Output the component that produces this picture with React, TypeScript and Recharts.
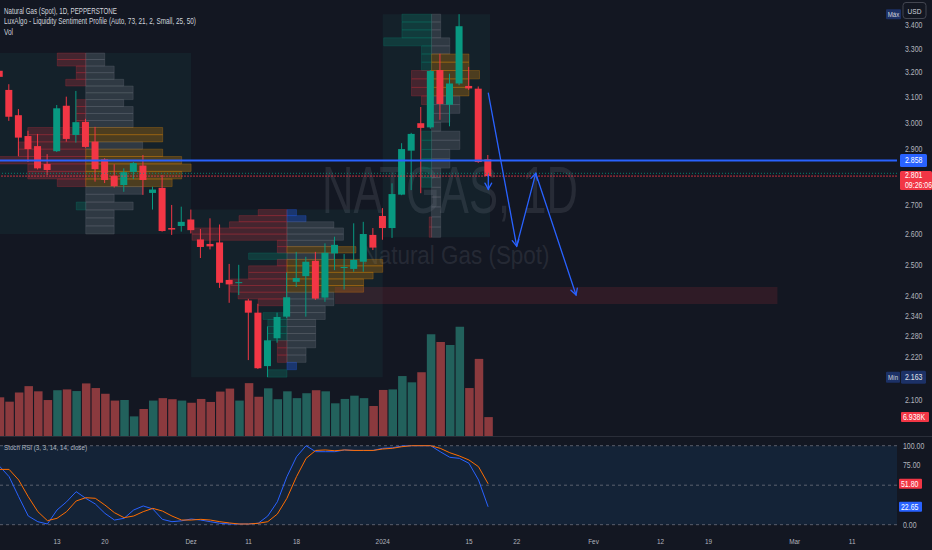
import React from 'react';
import { ComposedChart, Bar, Line, XAxis, YAxis, ReferenceArea, ReferenceLine, Cell } from 'recharts';

// daily candles, index -1 .. 50 (6 Nov 2023 = 0)
const firstIndex = -1;
const opens = [3.207, 3.129, 3.029, 2.949, 2.911, 2.845, 2.892, 3.066, 2.953, 3.003, 2.928, 2.862, 2.802, 2.769, 2.816, 2.839, 2.741, 2.759, 2.620, 2.627, 2.649, 2.582, 2.567, 2.572, 2.451, 2.442, 2.387, 2.350, 2.194, 2.274, 2.338, 2.445, 2.463, 2.512, 2.396, 2.536, 2.490, 2.486, 2.509, 2.597, 2.661, 2.620, 2.735, 2.894, 2.998, 2.982, 3.210, 3.070, 3.155, 3.145, 3.134, 2.862];
const highs = [3.215, 3.152, 3.053, 2.969, 2.957, 2.881, 3.069, 3.102, 3.125, 3.015, 2.984, 2.866, 2.844, 2.829, 2.852, 2.878, 2.763, 2.805, 2.699, 2.693, 2.683, 2.617, 2.653, 2.632, 2.502, 2.499, 2.392, 2.377, 2.309, 2.350, 2.475, 2.541, 2.525, 2.541, 2.569, 2.591, 2.534, 2.636, 2.641, 2.620, 2.688, 2.775, 2.922, 2.961, 3.061, 3.210, 3.278, 3.195, 3.449, 3.223, 3.143, 2.878];
const lows = [3.175, 3.007, 2.874, 2.852, 2.825, 2.805, 2.889, 2.928, 2.924, 2.905, 2.781, 2.776, 2.760, 2.745, 2.790, 2.734, 2.683, 2.608, 2.597, 2.608, 2.602, 2.521, 2.549, 2.426, 2.380, 2.404, 2.211, 2.186, 2.163, 2.261, 2.334, 2.429, 2.338, 2.389, 2.383, 2.482, 2.421, 2.477, 2.477, 2.547, 2.581, 2.587, 2.733, 2.751, 2.740, 2.977, 3.011, 2.986, 3.148, 3.129, 2.849, 2.801];
const closes = [3.182, 3.023, 2.943, 2.900, 2.829, 2.823, 3.056, 2.938, 3.002, 2.908, 2.826, 2.787, 2.765, 2.815, 2.848, 2.787, 2.753, 2.610, 2.615, 2.641, 2.613, 2.557, 2.559, 2.442, 2.437, 2.444, 2.350, 2.188, 2.268, 2.337, 2.397, 2.457, 2.509, 2.393, 2.538, 2.564, 2.492, 2.515, 2.600, 2.555, 2.620, 2.737, 2.900, 2.957, 2.980, 3.206, 3.073, 3.155, 3.396, 3.135, 2.852, 2.801];
const volumes = [14.2, 12.6, 16.0, 18.3, 16.4, 13.2, 16.8, 17.1, 16.5, 19.3, 17.6, 15.5, 13.0, 13.2, 7.2, 9.9, 13.0, 13.9, 13.5, 13.0, 12.2, 13.6, 12.5, 16.3, 17.4, 13.0, 19.4, 14.4, 17.5, 13.5, 16.4, 13.9, 15.7, 16.8, 16.4, 12.0, 13.6, 14.8, 13.9, 11.0, 16.9, 17.1, 22.0, 19.7, 23.4, 37.3, 34.5, 33.4, 40.1, 17.6, 28.3, 6.938];
const stochK = [74, 60.8, 35.4, 11, 3.8, 0.9, 18.6, 29, 41.8, 33.4, 26.2, 14.4, 5.9, 8.1, 18.6, 23.7, 19.9, 6.8, 3.8, 4.9, 7.2, 5.9, 3.8, 1.8, 0.9, 0.9, 0.9, 1.8, 11, 29, 60.8, 86, 100, 92.4, 92.4, 92.4, 94.6, 94, 94, 94, 96.7, 97.3, 99.6, 100, 100, 100, 92.4, 85.3, 84, 77.7, 56.6, 22.65];
const stochD = [70, 70, 56.6, 35.4, 16.5, 5.1, 8.1, 16.5, 30, 34.2, 33.4, 24.9, 15.2, 8.9, 11, 16.5, 20.7, 17.3, 11, 5.9, 5.9, 6.8, 5.9, 3.8, 2.2, 0.9, 0.9, 1.8, 3.8, 13.5, 33.4, 60.8, 84, 94, 94.6, 93.6, 94.6, 94, 94, 94, 95.8, 96.7, 98.7, 100, 100, 100, 96.7, 91.1, 87, 81.9, 73.4, 51.8];

const dateTickIndex = [5, 10, 19, 25, 30, 39, 48, 53, 61, 68, 73, 82, 88];
const dateTickLabels = ['13', '20', 'Dez', '11', '18', '2024', '15', '22', 'Fev', '12', '19', 'Mar', '11'];
const priceTicks = [3.4, 3.3, 3.2, 3.1, 3.0, 2.9, 2.7, 2.6, 2.5, 2.4, 2.34, 2.28, 2.22, 2.1];
const stochTicks = [100, 75, 0];
const stochLevels = [100, 50, 0];

const levelLine = 2.858;
const bidLine = 2.811;
const countdown = '09:26:06';

// red target zone and drawn arrows [index, price]
const zoneFrom = 34;
const zoneTo = 80.2;
const zoneHigh = 2.429;
const zoneLow = 2.376;
const arrowPath = [[50.02, 3.116], [52.98, 2.56], [54.97, 2.811], [59.18, 2.404]];
const smallArrow = [[50.02, 2.805], [50.02, 2.754]];

// liquidity sentiment profiles
const profileFrom = [-3, 19, 39];
const profileTo = [19, 39, 50.2];
const profileMid = [8, 29, 44.1];
const profileHalf = [11, 10, 5];
const profileHigh = [3.281, 2.683, 3.449];
const profileLow = [2.6, 2.163, 2.589];
// rows top -> bottom: [sentiment colour, size, liquidity colour, size]
// r bear, g bull, a average, h high, l low, n none
const profile1Rows = [
  ['r', 27, 'a', 18], ['r', 27, 'a', 18], ['r', 9, 'a', 27], ['r', 9, 'a', 27], ['r', 19, 'a', 36],
  ['n', 0, 'a', 45], ['n', 0, 'a', 45], ['r', 9, 'a', 36], ['r', 9, 'a', 45], ['r', 9, 'a', 45],
  ['r', 9, 'a', 45], ['r', 55, 'h', 73], ['r', 55, 'h', 73], ['r', 64, 'a', 54], ['r', 64, 'h', 73],
  ['r', 90, 'h', 91], ['r', 55, 'h', 100], ['r', 55, 'h', 91], ['r', 27, 'h', 82], ['n', 0, 'a', 54],
  ['n', 0, 'a', 27], ['g', 9, 'a', 45], ['n', 0, 'a', 27], ['n', 0, 'a', 27], ['n', 0, 'a', 27],
];
const profile2Rows = [
  ['r', 30, 'l', 10], ['r', 50, 'l', 20], ['r', 60, 'a', 49], ['r', 99, 'a', 59], ['r', 99, 'a', 59],
  ['r', 10, 'a', 49], ['r', 10, 'h', 72], ['g', 40, 'a', 49], ['r', 10, 'h', 100], ['r', 40, 'h', 100],
  ['r', 40, 'h', 90], ['r', 59, 'h', 80], ['r', 59, 'h', 80], ['r', 51, 'a', 49], ['r', 30, 'a', 49],
  ['n', 0, 'a', 40], ['g', 25, 'a', 40], ['g', 20, 'a', 30], ['g', 20, 'a', 30], ['g', 20, 'a', 30],
  ['r', 10, 'a', 30], ['r', 10, 'a', 20], ['r', 10, 'a', 20], ['n', 0, 'l', 10], ['g', 20, 'n', 0],
];
const profile3Rows = [
  ['g', 62, 'a', 19], ['g', 62, 'a', 19], ['g', 62, 'a', 19], ['g', 100, 'a', 38], ['g', 21, 'a', 38],
  ['g', 21, 'h', 78], ['g', 21, 'h', 78], ['r', 42, 'h', 100], ['r', 42, 'h', 78], ['r', 42, 'h', 78],
  ['r', 21, 'a', 59], ['n', 0, 'a', 59], ['n', 0, 'a', 38], ['n', 0, 'a', 19], ['g', 21, 'a', 59],
  ['g', 21, 'a', 59], ['g', 21, 'a', 38], ['g', 21, 'a', 38], ['g', 21, 'a', 19], ['g', 21, 'a', 19],
  ['n', 0, 'a', 19], ['n', 0, 'a', 19], ['n', 0, 'a', 19], ['r', 5, 'a', 19], ['r', 5, 'a', 19],
];

const X_MIN = -0.95;
const X_MAX = 92.68;
const P_MIN = 2.0055;
const P_MAX = 3.5124;

const UP = '#089981';
const DOWN = '#f23645';
const BLUE = '#2962ff';
const NAVY = '#1c3166';
const AXIS_TEXT = '#b2b5be';
const FONT = "'Liberation Sans', Arial, sans-serif";

const rows = opens.map((o, k) => ({
  i: firstIndex + k,
  o,
  h: highs[k],
  l: lows[k],
  c: closes[k],
  v: volumes[k],
  k: stochK[k],
  d: stochD[k],
}));

const lastClose = closes[closes.length - 1];
const lastVolume = volumes[volumes.length - 1];
const maxHigh = Math.max(...highs);
const minLow = Math.min(...lows);
const lastK = stochK[stochK.length - 1];
const lastD = stochD[stochD.length - 1];

const leftFill: Record<string, string> = { r: '#f23645', g: '#089981' };
const rightFill: Record<string, string> = { a: '#787b86', h: '#ff9800', l: '#2962ff' };
const rightOpacity: Record<string, number> = { a: 0.28, h: 0.24, l: 0.32 };

const Txt = ({ x, y, size = 8.5, fill = AXIS_TEXT, anchor = 'start', sx = 0.82, weight = 400, children }: any) => (
  <text
    transform={`translate(${x},${y}) scale(${sx},1)`}
    fontSize={size}
    fill={fill}
    textAnchor={anchor}
    fontWeight={weight}
    fontFamily={FONT}
  >
    {children}
  </text>
);

const Candle = (props: any) => {
  const { x, y, width, height, payload } = props;
  if (x == null || !payload) return null;
  const { o, h, l, c } = payload;
  const top0 = Math.min(y, y + height);
  const hh = Math.abs(height);
  const span = Math.log(h / l);
  const toY = (p: number) => top0 + (span > 0 ? (hh * Math.log(h / p)) / span : 0);
  const color = c >= o ? UP : DOWN;
  const bodyTop = toY(Math.max(o, c));
  const bodyBot = toY(Math.min(o, c));
  const cx = x + width / 2;
  return (
    <g>
      <line x1={cx} x2={cx} y1={top0} y2={top0 + hh} stroke={color} strokeWidth={1} />
      <rect x={x} y={bodyTop} width={width} height={Math.max(1, bodyBot - bodyTop)} fill={color} />
    </g>
  );
};

const ArrowLine = (props: any) => {
  const { x1, y1, x2, y2 } = props;
  if (x1 == null) return null;
  const a = Math.atan2(y2 - y1, x2 - x1);
  const len = 7;
  const s = 0.5;
  const p1 = [x2 - len * Math.cos(a - s), y2 - len * Math.sin(a - s)];
  const p2 = [x2 - len * Math.cos(a + s), y2 - len * Math.sin(a + s)];
  return (
    <g stroke={BLUE} strokeWidth={1.3} fill="none" strokeLinecap="round">
      <line x1={x1} y1={y1} x2={x2} y2={y2} />
      <polyline points={`${p1[0]},${p1[1]} ${x2},${y2} ${p2[0]},${p2[1]}`} />
    </g>
  );
};

const renderPriceTick = (props: any) => {
  const { x, y, payload } = props;
  const v = payload.value;
  if (v === levelLine) {
    return (
      <g>
        <rect x={x - 5} y={y - 6.5} width={27} height={13} rx={1.5} fill={BLUE} />
        <Txt x={x} y={y + 3} fill="#ffffff">{v.toFixed(3)}</Txt>
      </g>
    );
  }
  if (v === lastClose) {
    return (
      <g>
        <rect x={x - 5} y={y - 5} width={32} height={19} rx={1.5} fill={DOWN} />
        <Txt x={x} y={y + 1.8} fill="#ffffff">{v.toFixed(3)}</Txt>
        <Txt x={x} y={y + 12.3} fill="#ffffff">{countdown}</Txt>
      </g>
    );
  }
  if (v === minLow) {
    return (
      <g>
        <rect x={x - 19} y={y - 5.5} width={14} height={11} rx={1} fill={NAVY} />
        <Txt x={x - 12} y={y + 3} size={7.5} anchor="middle" fill="#d1d4dc">Mín</Txt>
        <rect x={x - 4} y={y - 6.5} width={25} height={13} rx={1.5} fill={NAVY} />
        <Txt x={x} y={y + 3} fill="#e0e3eb">{v.toFixed(3)}</Txt>
      </g>
    );
  }
  if (v === maxHigh) {
    return (
      <g>
        <rect x={x - 19} y={y - 5} width={15} height={10} rx={1} fill={NAVY} />
        <Txt x={x - 11.5} y={y + 2.8} size={7.5} anchor="middle" fill="#d1d4dc">Máx</Txt>
      </g>
    );
  }
  return <Txt x={x} y={y + 3}>{v.toFixed(3)}</Txt>;
};

const renderStochTick = (props: any) => {
  const { x, y, payload } = props;
  const v = payload.value;
  if (v === lastD || v === lastK) {
    return (
      <g>
        <rect x={x - 6} y={y - 5} width={23} height={10} rx={1} fill={v === lastD ? DOWN : BLUE} />
        <Txt x={x - 4} y={y + 3} fill="#ffffff">{v.toFixed(2)}</Txt>
      </g>
    );
  }
  return <Txt x={x - 2} y={y + 3}>{v.toFixed(2)}</Txt>;
};

const renderDateTick = (props: any) => {
  const { x, y, payload } = props;
  const k = dateTickIndex.indexOf(payload.value);
  return (
    <Txt x={x} y={y + 12} size={8} anchor="middle" sx={0.8}>
      {dateTickLabels[k]}
    </Txt>
  );
};

const VolumeBadge = (props: any) => {
  const vb = props.viewBox || {};
  const right = (vb.x || 0) + (vb.width || 897);
  const y = vb.y || 0;
  return (
    <g>
      <rect x={right + 4} y={y - 5} width={28} height={10} rx={1} fill={DOWN} />
      <Txt x={right + 6} y={y + 3} fill="#ffffff">{`${lastVolume.toFixed(3)}K`}</Txt>
    </g>
  );
};

function profileAreas(list: any[], p: number) {
  const span = profileHigh[p] - profileLow[p];
  const n = list.length;
  const mid = profileMid[p];
  const unit = profileHalf[p] / 100;
  const out: any[] = [
    <ReferenceArea
      key={`bg${p}`}
      xAxisId="p"
      yAxisId="price"
      x1={profileFrom[p]}
      x2={profileTo[p]}
      y1={profileLow[p]}
      y2={profileHigh[p]}
      fill="#26a69a"
      fillOpacity={0.07}
      stroke="none"
      ifOverflow="hidden"
    />,
  ];
  list.forEach(([lc, lw, rc, rw], k) => {
    const y2 = profileHigh[p] - (span * k) / n;
    const y1 = profileHigh[p] - (span * (k + 1)) / n;
    if (lc !== 'n' && lw > 0) {
      out.push(
        <ReferenceArea
          key={`l${p}-${k}`}
          xAxisId="p"
          yAxisId="price"
          x1={mid - lw * unit}
          x2={mid}
          y1={y1}
          y2={y2}
          fill={leftFill[lc]}
          fillOpacity={0.22}
          stroke={leftFill[lc]}
          strokeOpacity={0.3}
          strokeWidth={0.7}
          ifOverflow="hidden"
        />
      );
    }
    if (rc !== 'n' && rw > 0) {
      out.push(
        <ReferenceArea
          key={`r${p}-${k}`}
          xAxisId="p"
          yAxisId="price"
          x1={mid}
          x2={mid + rw * unit}
          y1={y1}
          y2={y2}
          fill={rightFill[rc]}
          fillOpacity={rightOpacity[rc]}
          stroke={rightFill[rc]}
          strokeOpacity={0.35}
          strokeWidth={0.7}
          ifOverflow="hidden"
        />
      );
    }
  });
  return out;
}

const segments = arrowPath.slice(1).map((pt, k) => [arrowPath[k], pt]).concat([[smallArrow[0], smallArrow[1]]]);

export default function App() {
  return (
    <div style={{ position: 'absolute', left: 0, top: 0, width: 932, height: 550, background: '#131722', overflow: 'hidden' }}>
      <svg width={932} height={550} style={{ position: 'absolute', left: 0, top: 0 }}>
        <text x={450} y={213} fontSize={67} textAnchor="middle" fill="#787b86" fillOpacity={0.2} textLength={256} lengthAdjust="spacingAndGlyphs" fontFamily={FONT}>
          NATGAS, 1D
        </text>
        <text x={456} y={264} fontSize={25} textAnchor="middle" fill="#787b86" fillOpacity={0.2} textLength={187} lengthAdjust="spacingAndGlyphs" fontFamily={FONT}>
          Natural Gas (Spot)
        </text>
      </svg>

      <div style={{ position: 'absolute', left: 0, top: 0 }}>
        <ComposedChart width={932} height={436} data={rows} margin={{ top: 0, right: 0, bottom: 0, left: 0 }}>
          <XAxis xAxisId="p" dataKey="i" type="number" domain={[X_MIN, X_MAX]} allowDataOverflow hide />
          <XAxis xAxisId="v" dataKey="i" type="number" domain={[X_MIN, X_MAX]} allowDataOverflow hide />
          <YAxis yAxisId="vol" domain={[0, 160]} allowDataOverflow hide />
          <YAxis
            yAxisId="price"
            orientation="right"
            width={35}
            scale="log"
            domain={[P_MIN, P_MAX]}
            allowDataOverflow
            ticks={[...priceTicks, maxHigh, minLow, levelLine, lastClose]}
            interval={0}
            tick={renderPriceTick}
            tickSize={0}
            tickMargin={8}
            axisLine={false}
            tickLine={false}
          />
          {profileAreas(profile1Rows, 0)}
          {profileAreas(profile2Rows, 1)}
          {profileAreas(profile3Rows, 2)}
          <ReferenceArea
            xAxisId="p"
            yAxisId="price"
            x1={zoneFrom}
            x2={zoneTo}
            y1={zoneLow}
            y2={zoneHigh}
            fill="#f23645"
            fillOpacity={0.13}
            stroke="none"
            ifOverflow="hidden"
          />
          <Bar xAxisId="v" yAxisId="vol" dataKey="v" barSize={8.5} isAnimationActive={false}>
            {rows.map((r) => (
              <Cell key={r.i} fill={r.c >= r.o ? '#22615c' : '#8b3a3e'} />
            ))}
          </Bar>
          <Bar
            xAxisId="p"
            yAxisId="price"
            dataKey={(d: any) => [d.l, d.h]}
            barSize={7}
            shape={Candle}
            isAnimationActive={false}
          />
          <ReferenceLine xAxisId="p" yAxisId="price" y={bidLine} stroke={UP} strokeDasharray="1 2" strokeOpacity={0.8} />
          <ReferenceLine xAxisId="p" yAxisId="price" y={lastClose} stroke={DOWN} strokeDasharray="2 1" strokeOpacity={0.8} />
          <ReferenceLine xAxisId="p" yAxisId="price" y={levelLine} stroke={BLUE} strokeWidth={2} />
          {segments.map((s, k) => (
            <ReferenceLine
              key={`a${k}`}
              xAxisId="p"
              yAxisId="price"
              segment={[{ x: s[0][0], y: s[0][1] }, { x: s[1][0], y: s[1][1] }]}
              shape={ArrowLine}
              ifOverflow="visible"
            />
          ))}
          <ReferenceLine xAxisId="v" yAxisId="vol" y={lastVolume} stroke="none" label={{ content: (lp: any) => <VolumeBadge {...lp} /> }} />
        </ComposedChart>
      </div>

      <div style={{ position: 'absolute', left: 0, top: 436 }}>
        <ComposedChart width={932} height={114} data={rows} margin={{ top: 1, right: 0, bottom: 0, left: 0 }}>
          <XAxis
            dataKey="i"
            type="number"
            domain={[X_MIN, X_MAX]}
            allowDataOverflow
            ticks={dateTickIndex}
            interval={0}
            tick={renderDateTick}
            height={18}
            tickSize={0}
            tickMargin={0}
            axisLine={false}
            tickLine={false}
          />
          <YAxis
            orientation="right"
            width={35}
            domain={[-9.24, 111]}
            allowDataOverflow
            ticks={[...stochTicks, lastD, lastK]}
            interval={0}
            tick={renderStochTick}
            tickSize={0}
            tickMargin={8}
            axisLine={false}
            tickLine={false}
          />
          <ReferenceArea y1={0} y2={100} fill="#2196f3" fillOpacity={0.1} stroke="none" />
          {stochLevels.map((lv) => (
            <ReferenceLine key={lv} y={lv} stroke="#787b86" strokeOpacity={0.7} strokeDasharray="3 3" />
          ))}
          <Line dataKey="k" stroke={BLUE} strokeWidth={1} dot={false} isAnimationActive={false} />
          <Line dataKey="d" stroke="#ff6d00" strokeWidth={1} dot={false} isAnimationActive={false} />
        </ComposedChart>
      </div>

      <svg width={932} height={550} style={{ position: 'absolute', left: 0, top: 0, pointerEvents: 'none' }}>
        <line x1={0} x2={932} y1={436.5} y2={436.5} stroke="#2a2e39" strokeWidth={1} />
        <text x={4} y={13.5} fontSize={8.5} fill="#d1d4dc" textLength={113} lengthAdjust="spacingAndGlyphs" fontFamily={FONT}>
          Natural Gas (Spot), 1D, PEPPERSTONE
        </text>
        <text x={4} y={24} fontSize={8.5} fill="#d1d4dc" textLength={192} lengthAdjust="spacingAndGlyphs" fontFamily={FONT}>
          LuxAlgo - Liquidity Sentiment Profile (Auto, 73, 21, 2, Small, 25, 50)
        </text>
        <text x={4} y={35} fontSize={8.5} fill="#d1d4dc" textLength={9} lengthAdjust="spacingAndGlyphs" fontFamily={FONT}>
          Vol
        </text>
        <text x={4} y={449.5} fontSize={8} fill="#b2b5be" textLength={83} lengthAdjust="spacingAndGlyphs" fontFamily={FONT}>
          Stoch RSI (3, 3, 14, 14, close)
        </text>
        <rect x={903} y={2.5} width={23} height={16} rx={3} fill="#131722" stroke="#434651" />
        <Txt x={914.5} y={13.5} size={8} anchor="middle" fill="#d1d4dc">USD</Txt>
      </svg>
    </div>
  );
}
